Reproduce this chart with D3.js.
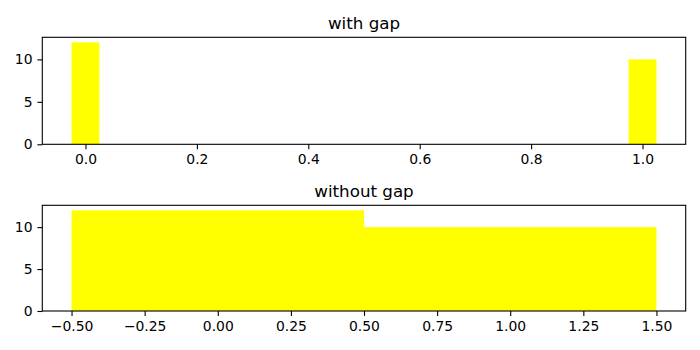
<!DOCTYPE html>
<html>
<head>
<meta charset="utf-8">
<script src="https://cdn.jsdelivr.net/npm/d3@7"></script>
<style>
  html, body { margin: 0; padding: 0; background: #fff; }
  svg { display: block; font-family: "DejaVu Sans", sans-serif; }
</style>
</head>
<body>
<svg id="chart" width="700" height="350"></svg>
<script>
const W = 700, H = 350;

// данные
const binCenters = [0, 1];
const counts     = [12, 10];
const gapWidth   = 0.05;   // узкие столбцы (с промежутком)
const fullWidth  = 1.0;    // столбцы впритык
const yTicks     = [0, 5, 10];
const topXTicks  = [0, 0.2, 0.4, 0.6, 0.8, 1.0];
const botXTicks  = [-0.5, -0.25, 0, 0.25, 0.5, 0.75, 1.0, 1.25, 1.5];
const titles     = ['with gap', 'without gap'];

const svg = d3.select('#chart');
const left = 42.3, right = 685.7;

const panels = [
  { top: 37.3,  bottom: 144.3, width: gapWidth,  ticks: topXTicks, fmt: d3.format('.1f'), title: titles[0] },
  { top: 205.3, bottom: 311,   width: fullWidth, ticks: botXTicks, fmt: d3.format('.2f'), title: titles[1] },
];

panels.forEach(p => {
  const bins = binCenters.map((c, i) => ({ x0: c - p.width/2, x1: c + p.width/2, n: counts[i] }));
  const lo = d3.min(bins, d => d.x0), hi = d3.max(bins, d => d.x1);
  const pad = (hi - lo) * 0.05;
  const x = d3.scaleLinear().domain([lo - pad, hi + pad]).range([left, right]);
  const y = d3.scaleLinear().domain([0, d3.max(counts) * 1.05]).range([p.bottom, p.top]);

  const g = svg.append('g');

  g.selectAll('rect.bar')
    .data(bins)
    .join('rect')
    .attr('class', 'bar')
    .attr('x', d => x(d.x0))
    .attr('width', d => x(d.x1) - x(d.x0))
    .attr('y', d => y(d.n))
    .attr('height', d => y(0) - y(d.n))
    .attr('fill', '#ffff00');

  // рамка
  g.append('rect')
    .attr('x', left).attr('y', p.top)
    .attr('width', right - left).attr('height', p.bottom - p.top)
    .attr('fill', 'none').attr('stroke', '#000').attr('stroke-width', 1.1);

  const xa = g.append('g')
    .attr('transform', `translate(0,${p.bottom})`)
    .call(d3.axisBottom(x).tickValues(p.ticks).tickFormat(p.fmt).tickSize(4.9).tickPadding(4.9));
  const ya = g.append('g')
    .attr('transform', `translate(${left},0)`)
    .call(d3.axisLeft(y).tickValues(yTicks).tickFormat(d3.format('d')).tickSize(4.9).tickPadding(4.9));

  [xa, ya].forEach(a => {
    a.select('.domain').remove();
    a.selectAll('line').attr('stroke', '#000').attr('stroke-width', 1.1);
    a.selectAll('text').attr('font-family', '"DejaVu Sans", sans-serif')
      .attr('font-size', 13.9).attr('fill', '#000');
  });

  g.append('text')
    .attr('x', (left + right) / 2)
    .attr('y', p.top - 8.3)
    .attr('text-anchor', 'middle')
    .attr('font-size', 16.7)
    .attr('fill', '#000')
    .text(p.title);
});
</script>
</body>
</html>
